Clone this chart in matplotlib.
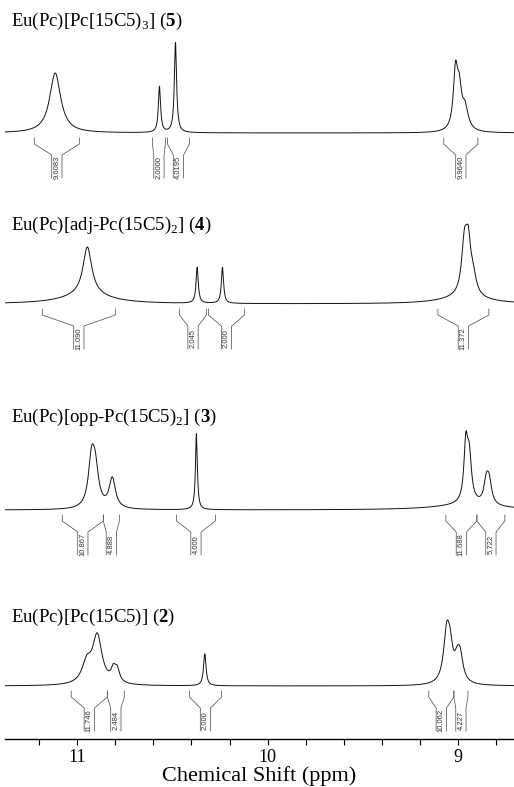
import numpy as np
import matplotlib
matplotlib.use('Agg')
import matplotlib.pyplot as plt

plt.rcParams['font.family'] = ['Liberation Serif', 'DejaVu Serif']
plt.rcParams['mathtext.fontset'] = 'custom'
plt.rcParams['mathtext.rm'] = 'Liberation Serif'
plt.rcParams['mathtext.bf'] = 'Liberation Serif:bold'

# titles of the four spectra, top to bottom
titles = [r'Eu(Pc)[Pc[15C5)$_3$] ($\mathbf{5}$)',
          r'Eu(Pc)[adj-Pc(15C5)$_2$] ($\mathbf{4}$)',
          r'Eu(Pc)[opp-Pc(15C5)$_2$] ($\mathbf{3}$)',
          r'Eu(Pc)[Pc(15C5)] ($\mathbf{2}$)']

# peaks: (shift ppm, height, half width ppm)
peaks_5 = [(11.116, 60, 0.035), (10.568, 46, 0.007), (10.484, 90, 0.007),
           (9.012, 58, 0.014), (8.992, 34, 0.014), (8.962, 22, 0.02)]
peaks_4 = [(10.947, 48, 0.028), (10.95, 9, 0.15), (10.37, 36, 0.007),
           (10.237, 36, 0.007), (8.965, 52, 0.018), (8.945, 42, 0.015),
           (8.92, 18, 0.02), (8.97, 6, 0.15)]
peaks_3 = [(10.925, 46, 0.02), (10.905, 34, 0.02), (10.816, 30, 0.02),
           (10.374, 76, 0.006), (8.958, 56, 0.012), (8.94, 44, 0.014),
           (8.85, 22, 0.015), (8.835, 20, 0.015), (8.95, 5, 0.2)]
peaks_2 = [(10.895, 48, 0.03), (10.95, 20, 0.03), (10.81, 12, 0.015),
           (10.79, 12, 0.015), (10.33, 32, 0.008), (9.058, 52, 0.02),
           (9.04, 22, 0.015), (9.0, 26, 0.022), (8.985, 14, 0.015)]

# integration ranges (ppm) and values
integ_5 = [(11.226, 10.989, '9.6083'), (10.605, 10.537, '2.0000'),
           (10.526, 10.411, '4.0195'), (9.074, 8.895, '9.9640')]
integ_4 = [(11.184, 10.80, '11.090'), (10.463, 10.321, '2.045'),
           (10.311, 10.121, '2.000'), (9.105, 8.837, '11.372')]
integ_3 = [(11.079, 10.863, '10.867'), (10.863, 10.779, '4.888'),
           (10.479, 10.274, '4.000'), (9.063, 8.90, '11.688'),
           (8.90, 8.753, '5.722')]
integ_2 = [(11.032, 10.842, '11.746'), (10.842, 10.753, '2.484'),
           (10.411, 10.242, '2.000'), (9.153, 9.021, '10.062'),
           (9.021, 8.947, '4.227')]

peaks = [peaks_5, peaks_4, peaks_3, peaks_2]
integs = [integ_5, integ_4, integ_3, integ_2]

baselines = [133, 304, 510, 686]
title_y = [21, 225, 417, 617]

fig = plt.figure(figsize=(5.14, 7.87), dpi=100)
ax = fig.add_axes([5 / 514, 1 - 739 / 787, 509 / 514, 739 / 787])
ax.set_xlim(11.38, 8.705)
ax.set_ylim(739, 0)

x = np.linspace(8.705, 11.38, 5000)
gray = '#555555'
bw = 0.027  # half width of label box in ppm

for i in range(4):
    b = baselines[i]
    y = np.zeros_like(x)
    for p, h, w in peaks[i]:
        y += h * w ** 2 / ((x - p) ** 2 + w ** 2)
    ax.plot(x, b - y, color='#111111', lw=0.7)
    ax.text(11.35, title_y[i], titles[i], fontsize=13.5, va='center', ha='left')

    for x1, x2, lab in integs[i]:
        xc = (x1 + x2) / 2
        t, k, bt, bb = b + 5, b + 11, b + 22, b + 45
        ax.plot([x1, x1, xc + bw, xc + bw], [t, k, bt, bb], color=gray, lw=0.55)
        ax.plot([x2, x2, xc - bw, xc - bw], [t, k, bt, bb], color=gray, lw=0.55)
        ax.text(xc, (bt + bb) / 2 + 1, lab, rotation=90, fontsize=5.5,
                family='Liberation Sans', ha='center', va='center', color='#333333')

for s in ['top', 'left', 'right']:
    ax.spines[s].set_visible(False)
ax.spines['bottom'].set_linewidth(1.0)
ax.set_yticks([])
ax.set_xticks([11, 10, 9])
ax.set_xticks(np.arange(8.8, 11.4, 0.2), minor=True)
ax.tick_params(axis='x', which='both', direction='out', length=4, width=0.8,
               labelsize=13, pad=3)
ax.set_xlabel('Chemical Shift (ppm)', fontsize=16, labelpad=0)

fig.savefig('out.png', dpi=100)
